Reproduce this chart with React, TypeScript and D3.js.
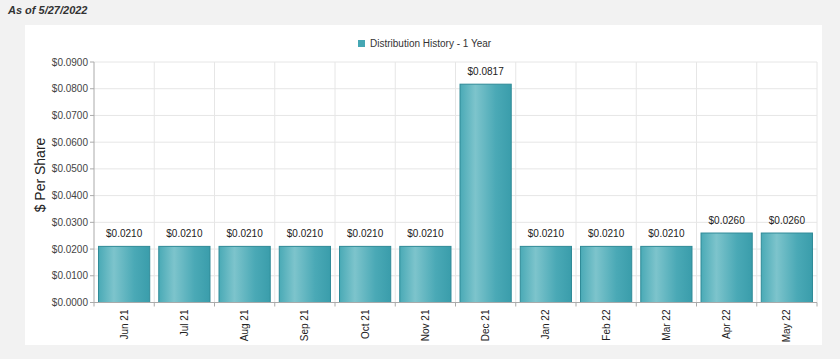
import React from "react";
import * as d3 from "d3";

const categories = ["Jun 21","Jul 21","Aug 21","Sep 21","Oct 21","Nov 21","Dec 21","Jan 22","Feb 22","Mar 22","Apr 22","May 22"];
const values = [0.021,0.021,0.021,0.021,0.021,0.021,0.0817,0.021,0.021,0.021,0.026,0.026];
const yTicks = [0,0.01,0.02,0.03,0.04,0.05,0.06,0.07,0.08,0.09];
const seriesName = "Distribution History - 1 Year";
const asOf = "As of 5/27/2022";

export default function App() {
  const W = 840, H = 359;
  const left = 94, right = 817, top = 62, bottom = 302.5;
  const x = d3.scaleBand().domain(categories).range([left, right]).paddingInner(0.15).paddingOuter(0.075);
  const xb = d3.scaleBand().domain(categories).range([left, right]);
  const y = d3.scaleLinear().domain([0, 0.09]).range([bottom, top]);
  const font = "Arial, 'Liberation Sans', sans-serif";
  const fmt = (v: number) => "$" + v.toFixed(4);
  return (
    <svg width={W} height={H} style={{ position: "absolute", left: 0, top: 0 }} fontFamily={font}>
      <defs>
        <linearGradient id="barg" x1="0" x2="1" y1="0" y2="0">
          <stop offset="0" stopColor="#4aaab6" />
          <stop offset="0.3" stopColor="#7dc4cc" />
          <stop offset="0.7" stopColor="#4aa9b6" />
          <stop offset="1" stopColor="#3a9dab" />
        </linearGradient>
      </defs>
      <rect x={0} y={0} width={W} height={H} fill="#f2f2f2" />
      <rect x={25} y={25} width={797} height={320} fill="#ffffff" />
      <text x={8} y={14} fontSize={11} fontStyle="italic" fontWeight="bold" fill="#333">{asOf}</text>
      {/* legend */}
      <rect x={358} y={40} width={7} height={7} fill="#45a7b4" />
      <text x={370} y={47} fontSize={10} fill="#333">{seriesName}</text>
      {/* gridlines */}
      {yTicks.map(t => (
        <line key={"h" + t} x1={left} x2={right} y1={y(t)} y2={y(t)} stroke="#e6e6e6" />
      ))}
      {categories.map((c, i) => (
        <line key={"v" + c} x1={(xb(c) as number) + xb.bandwidth()} x2={(xb(c) as number) + xb.bandwidth()} y1={top} y2={bottom} stroke="#e6e6e6" />
      ))}
      {/* bars */}
      {categories.map((c, i) => (
        <rect key={"b" + c} x={x(c)} y={y(values[i])} width={x.bandwidth()} height={bottom - y(values[i])}
          fill="url(#barg)" stroke="#2f8a97" strokeWidth={1} />
      ))}
      {categories.map((c, i) => (
        <text key={"l" + c} x={(x(c) as number) + x.bandwidth() / 2} y={y(values[i]) - 9} fontSize={10} textAnchor="middle" fill="#222">{fmt(values[i])}</text>
      ))}
      {/* axes */}
      <line x1={left} x2={left} y1={top} y2={bottom} stroke="#aaa" />
      <line x1={left} x2={right} y1={bottom} y2={bottom} stroke="#aaa" />
      {yTicks.map(t => (
        <g key={"yt" + t}>
          <line x1={left - 4} x2={left} y1={y(t)} y2={y(t)} stroke="#aaa" />
          <text x={left - 6} y={y(t) + 3.5} fontSize={10} textAnchor="end" fill="#444">{fmt(t)}</text>
        </g>
      ))}
      {[left, ...categories.map(c => (xb(c) as number) + xb.bandwidth())].map((v, i) => (
        <line key={"xt" + i} x1={v} x2={v} y1={bottom} y2={bottom + 4} stroke="#aaa" />
      ))}
      {categories.map(c => {
        const cx = (xb(c) as number) + xb.bandwidth() / 2;
        return (
          <text key={"xl" + c} transform={`translate(${cx + 3.5},${bottom + 7}) rotate(-90)`} fontSize={10} textAnchor="end" fill="#222">{c}</text>
        );
      })}
      <text transform={`translate(45,175) rotate(-90)`} fontSize={14} textAnchor="middle" fill="#222">$ Per Share</text>
    </svg>
  );
}
